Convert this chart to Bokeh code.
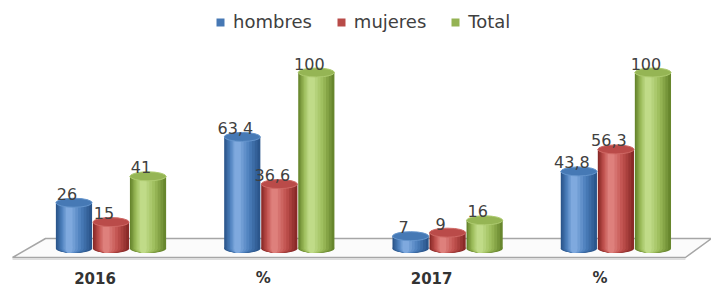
from bokeh.plotting import figure
from bokeh.models import Range1d, Legend, LegendItem, ColumnDataSource
from bokeh.core.properties import value
from bokeh.embed import file_html
from bokeh.resources import INLINE

# ---- data ----
categories = ["2016", "%", "2017", "%"]
series_names = ["hombres", "mujeres", "Total"]
hombres = [26, 63.4, 7, 43.8]
mujeres = [15, 36.6, 9, 56.3]
total = [41, 100, 16, 100]

# ---- style / layout ----
FIG_W, FIG_H = 711, 287
PX_PER_GROUP = 168.3
PX_PER_UNIT = 1.76
X0_PX = 110.5          # frame px of first group centre
ZERO_PX = 248          # frame px (from top) of value 0

x_range = Range1d(-X0_PX / PX_PER_GROUP, (FIG_W - X0_PX) / PX_PER_GROUP)
y_range = Range1d((ZERO_PX - FIG_H) / PX_PER_UNIT, ZERO_PX / PX_PER_UNIT)

palettes = {
    "hombres": ("#2b568c", "#4a7ebb", "#7fa9de"),
    "mujeres": ("#8a2a28", "#c0504d", "#de807c"),
    "Total":   ("#67862d", "#9bbb59", "#c0db88"),
}
BAR_W = 0.215
OFFSETS = [-0.22, 0.0, 0.22]
ELL_H = 9
N_LAYERS = 8
FONT = value("DejaVu Sans")
TXT = "#404040"


def hex2rgb(h):
    h = h.lstrip("#")
    return [int(h[i:i + 2], 16) for i in (0, 2, 4)]


def mix(a, b, t):
    ra, rb = hex2rgb(a), hex2rgb(b)
    return "#%02x%02x%02x" % tuple(int(round(x + (y - x) * t)) for x, y in zip(ra, rb))


def fmt(v):
    return str(int(v)) if float(v).is_integer() else ("%.1f" % v).replace(".", ",")


p = figure(width=FIG_W, height=FIG_H, x_range=x_range, y_range=y_range,
           output_backend="svg", toolbar_location=None,
           x_axis_location=None, y_axis_location=None,
           min_border=0, outline_line_color=None)
p.grid.visible = False
p.background_fill_color = "white"

# floor (3D base plane)
fb, ff = 10 / PX_PER_UNIT, -9 / PX_PER_UNIT
p.patch([-0.389, 3.568, 3.413, -0.585], [fb, fb, ff, ff],
        fill_color="#fbfbfb", line_color="#a6a6a6", line_width=1.5)
p.line([-0.585, 3.413], [ff - 1.6 / PX_PER_UNIT] * 2, line_color="#dedede", line_width=2)

groups = list(range(len(categories)))
values_by_series = {"hombres": hombres, "mujeres": mujeres, "Total": total}
legend_items = []

for si, name in enumerate(series_names):
    vals = values_by_series[name]
    dark, mid, light = palettes[name]
    xs = [g + OFFSETS[si] for g in groups]
    legend_r = None
    for j in range(N_LAYERS):
        t = j / (N_LAYERS - 1)
        col = mix(dark, mid, 2 * t) if t < 0.5 else mix(mid, light, 2 * t - 1)
        w = BAR_W * (1 - 0.82 * t)
        sh = -BAR_W * 0.13 * t
        src = ColumnDataSource(dict(x=[x + sh for x in xs], top=vals))
        p.ellipse(x="x", y=0, width=w, height=ELL_H, height_units="screen",
                  source=src, fill_color=col, line_color=None)
        r = p.vbar(x="x", width=w, bottom=0, top="top", source=src,
                   fill_color=col, line_color=None)
        if j == 3:
            legend_r = r
    # top cap
    p.ellipse(x=xs, y=vals, width=BAR_W, height=ELL_H, height_units="screen",
              fill_color=mix(mid, dark, 0.12), line_color=mix(mid, light, 0.5),
              line_width=1)
    # data labels
    p.text(x=xs, y=vals, text=[fmt(v) for v in vals], x_offset=-7, y_offset=-9,
           text_align="center", text_baseline="alphabetic", text_font=FONT,
           text_font_size="16px", text_color=TXT)
    legend_items.append(LegendItem(label=name, renderers=[legend_r]))

# category labels
p.text(x=[g - 0.095 for g in groups], y=[y_range.start + 10 / PX_PER_UNIT] * len(groups),
       text=categories, text_align="center", text_baseline="alphabetic",
       text_font=FONT, text_font_size="15px", text_font_style="bold", text_color="#333333")

legend = Legend(items=legend_items, location=(215, 255), orientation="horizontal",
                glyph_width=10, glyph_height=10, label_standoff=8, spacing=24,
                padding=0, margin=0, border_line_color=None, background_fill_alpha=0,
                label_text_font="DejaVu Sans", label_text_font_size="18px",
                label_text_color=TXT)
p.add_layout(legend)

open("out.html", "w").write(file_html(p, INLINE))
